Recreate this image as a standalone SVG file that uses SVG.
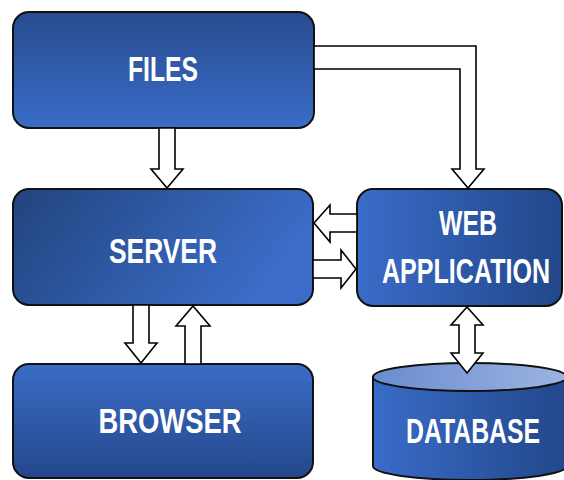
<svg xmlns="http://www.w3.org/2000/svg" width="564" height="480" viewBox="0 0 564 480">
  <defs>
    <linearGradient id="gDown" x1="0" y1="0" x2="0" y2="1">
      <stop offset="0" stop-color="#274b8f"/>
      <stop offset="1" stop-color="#3a6cc8"/>
    </linearGradient>
    <linearGradient id="gUp" x1="0" y1="0" x2="0" y2="1">
      <stop offset="0" stop-color="#3a6cc6"/>
      <stop offset="1" stop-color="#24478a"/>
    </linearGradient>
    <linearGradient id="gRight" x1="0" y1="0" x2="1" y2="0.3">
      <stop offset="0" stop-color="#22447e"/>
      <stop offset="1" stop-color="#3b6dc8"/>
    </linearGradient>
    <linearGradient id="gLeft" x1="0" y1="0" x2="1" y2="0">
      <stop offset="0" stop-color="#3a6cc8"/>
      <stop offset="1" stop-color="#22478a"/>
    </linearGradient>
    <linearGradient id="gTop" x1="0" y1="0" x2="1" y2="0">
      <stop offset="0" stop-color="#6a8cce"/>
      <stop offset="1" stop-color="#9db4e2"/>
    </linearGradient>
    <style>
      .box { stroke: #111; stroke-width: 2; }
      .lbl { font-family: "Liberation Sans", Arial, sans-serif; font-weight: bold; font-size: 35px; fill: #fff; text-anchor: middle; }
      .arrow { fill: #fff; stroke: #000; stroke-width: 1.6; stroke-linejoin: miter; }
    </style>
  </defs>

  <rect width="564" height="480" fill="#fff"/>

  <g id="files">
    <rect class="box" x="13" y="12" width="301" height="116" rx="16" fill="url(#gDown)"/>
    <text class="lbl" x="163" y="81" textLength="70" lengthAdjust="spacingAndGlyphs">FILES</text>
  </g>

  <g id="server">
    <rect class="box" x="13" y="189" width="300" height="116" rx="16" fill="url(#gRight)"/>
    <text class="lbl" x="163" y="263" textLength="108" lengthAdjust="spacingAndGlyphs">SERVER</text>
  </g>

  <g id="browser">
    <rect class="box" x="13" y="364" width="300" height="114" rx="16" fill="url(#gUp)"/>
    <text class="lbl" x="170" y="433" textLength="143" lengthAdjust="spacingAndGlyphs">BROWSER</text>
  </g>

  <g id="webapp">
    <rect class="box" x="357" y="189" width="205" height="117" rx="16" fill="url(#gLeft)"/>
    <text class="lbl" x="468" y="235" textLength="58" lengthAdjust="spacingAndGlyphs">WEB</text>
    <text class="lbl" x="466" y="283" textLength="168" lengthAdjust="spacingAndGlyphs">APPLICATION</text>
  </g>

  <g id="database">
    <path class="box" d="M373 377 L373 466 A97 14 0 0 0 567 466 L567 377 Z" fill="url(#gLeft)"/>
    <ellipse class="box" cx="470" cy="377" rx="97" ry="14" fill="url(#gTop)"/>
    <text class="lbl" x="473" y="443" textLength="134" lengthAdjust="spacingAndGlyphs">DATABASE</text>
  </g>

  <g id="connectors">
    <!-- files to server -->
    <polygon class="arrow" points="159,128 175,128 175,169 183,169 167,188 151,169 159,169"/>
    <!-- files to web application -->
    <polygon class="arrow" points="314,46 476,46 476,169 484,169 468,188 452,169 460,169 460,69 314,69"/>
    <!-- web application to server -->
    <polygon class="arrow" points="357,214 330,214 330,205 314,223 330,242 330,232 357,232"/>
    <!-- server to web application -->
    <polygon class="arrow" points="313,260 341,260 341,250 356,269 341,288 341,278 313,278"/>
    <!-- server to browser -->
    <polygon class="arrow" points="133,305 149,305 149,343 157,343 141,363 125,343 133,343"/>
    <!-- browser to server -->
    <polygon class="arrow" points="185,364 201,364 201,326 210,326 193,306 176,326 185,326"/>
    <!-- web application and database -->
    <polygon class="arrow" points="467,307 483,325 475,325 475,353 483,353 467,373 451,353 459,353 459,325 451,325"/>
  </g>
</svg>
